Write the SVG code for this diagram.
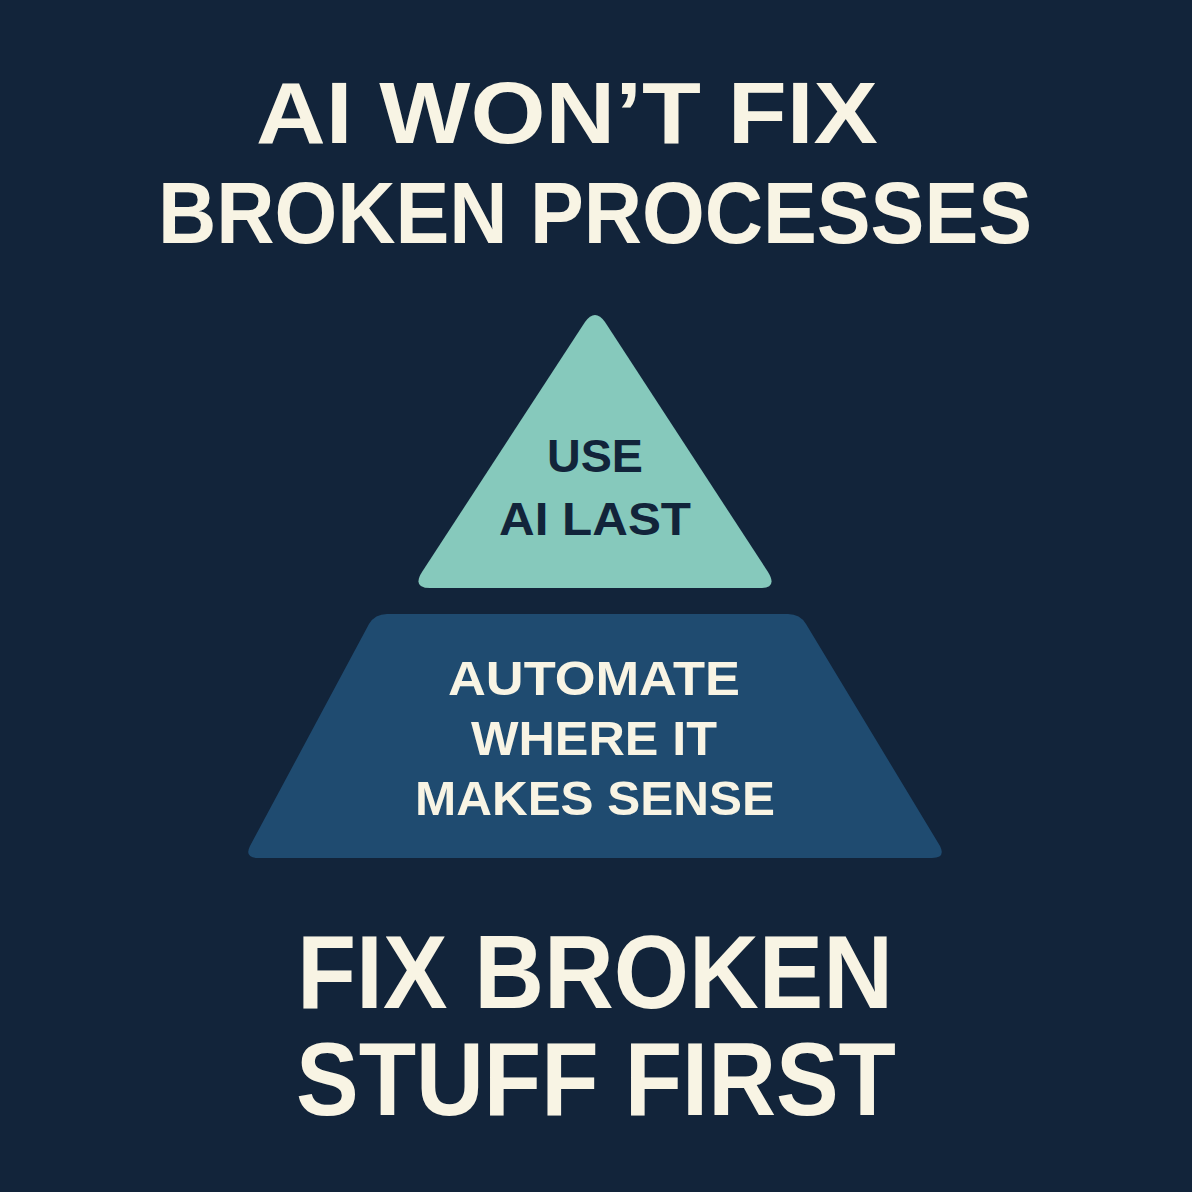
<svg xmlns="http://www.w3.org/2000/svg" width="1192" height="1192" viewBox="0 0 1192 1192">
<style>
text{font-family:"Liberation Sans",Arial,sans-serif;font-weight:bold;text-anchor:middle}
.c{fill:#f8f4e4}
.d{fill:#12243a}
</style>
<rect width="1192" height="1192" fill="#12243a"/>
<g id="title">
<text class="c" x="567" y="143" font-size="88" textLength="622" lengthAdjust="spacingAndGlyphs">AI WON’T FIX</text>
<text class="c" x="595" y="243" font-size="88" textLength="874" lengthAdjust="spacingAndGlyphs">BROKEN PROCESSES</text>
</g>
<g id="top">
<path d="M585,322 Q595,308 605,322 L768,572 Q778,588 760,588 L430,588 Q412,588 422,572 Z" fill="#86c9bc"/>
<text class="d" x="595" y="472" font-size="46" textLength="96" lengthAdjust="spacingAndGlyphs">USE</text>
<text class="d" x="595" y="535" font-size="46" textLength="192" lengthAdjust="spacingAndGlyphs">AI LAST</text>
</g>
<g id="middle">
<path d="M387,614 L788,614 Q800,614 806,624 L940,846 Q946,858 932,858 L258,858 Q244,858 250,846 L369,624 Q375,614 387,614 Z" fill="#1f4b70"/>
<text class="c" x="594" y="695" font-size="48" textLength="292" lengthAdjust="spacingAndGlyphs">AUTOMATE</text>
<text class="c" x="594" y="755" font-size="48" textLength="246" lengthAdjust="spacingAndGlyphs">WHERE IT</text>
<text class="c" x="595" y="815" font-size="48" textLength="360" lengthAdjust="spacingAndGlyphs">MAKES SENSE</text>
</g>
<g id="bottom">
<text class="c" x="595" y="1008" font-size="104" textLength="596" lengthAdjust="spacingAndGlyphs">FIX BROKEN</text>
<text class="c" x="596" y="1115" font-size="104" textLength="600" lengthAdjust="spacingAndGlyphs">STUFF FIRST</text>
</g>
</svg>
